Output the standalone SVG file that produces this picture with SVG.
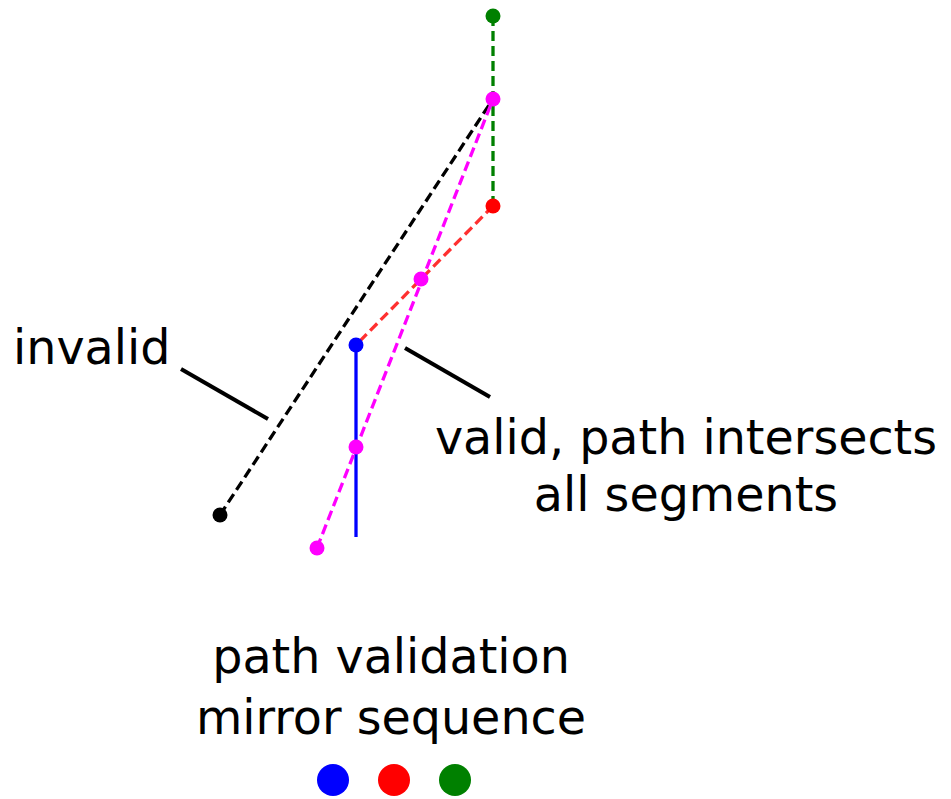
<svg xmlns="http://www.w3.org/2000/svg" width="951" height="799" viewBox="0 0 951 799">
<style>
.lbl{font-family:"DejaVu Sans",sans-serif;font-size:47.6px;fill:#000}
.dash{fill:none;stroke-width:3.3;stroke-dasharray:10,5}
.leader{stroke:#000;stroke-width:4;fill:none}
</style>
<rect width="951" height="799" fill="#fff"/>
<g id="connectors">
<line class="dash" x1="493" y1="16" x2="493" y2="206" stroke="#008000"/>
<line class="dash" x1="493" y1="206" x2="356" y2="345" stroke="#ff3030"/>
<line class="dash" x1="220" y1="515" x2="493" y2="99" stroke="#000"/>
<line x1="356" y1="345" x2="356" y2="537" stroke="#0000ff" stroke-width="3.3"/>
<line class="dash" x1="317" y1="548" x2="493" y2="99" stroke="#ff00ff"/>
<line class="leader" x1="181" y1="369" x2="268" y2="419"/>
<line class="leader" x1="405" y1="348" x2="490" y2="397"/>
</g>
<g id="node-green"><circle cx="493" cy="16" r="7.5" fill="#008000"/></g>
<g id="node-red"><circle cx="493" cy="206" r="7.5" fill="#ff0000"/></g>
<g id="node-blue"><circle cx="356" cy="345" r="7.5" fill="#0000ff"/></g>
<g id="node-black"><circle cx="220" cy="515" r="7.5" fill="#000"/></g>
<g id="node-magenta">
<circle cx="493" cy="99" r="7.5" fill="#ff00ff"/>
<circle cx="421" cy="279" r="7.5" fill="#ff00ff"/>
<circle cx="356" cy="447" r="7.5" fill="#ff00ff"/>
<circle cx="317" cy="548" r="7.5" fill="#ff00ff"/>
</g>
<g id="label-invalid"><text class="lbl" x="13" y="364">invalid</text></g>
<g id="label-valid">
<text class="lbl" x="686" y="454" text-anchor="middle">valid, path intersects</text>
<text class="lbl" x="686" y="511" text-anchor="middle">all segments</text>
</g>
<g id="legend">
<text class="lbl" x="391" y="673" text-anchor="middle">path validation</text>
<text class="lbl" x="391" y="734" text-anchor="middle">mirror sequence</text>
<circle cx="333" cy="780" r="16" fill="#0000ff"/>
<circle cx="394" cy="780" r="16" fill="#ff0000"/>
<circle cx="455" cy="780" r="16" fill="#008000"/>
</g>
</svg>
